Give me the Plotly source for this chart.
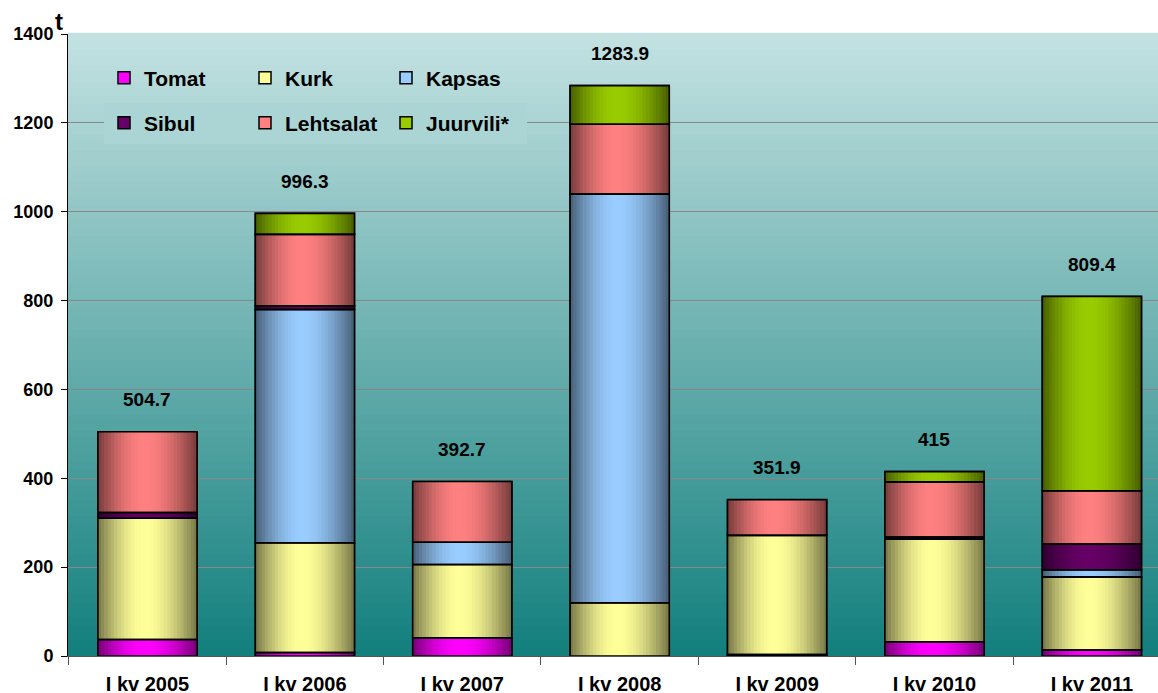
import math
import plotly.graph_objects as go

categories = ["I kv 2005", "I kv 2006", "I kv 2007", "I kv 2008", "I kv 2009", "I kv 2010", "I kv 2011"]
tomat = [37, 8, 41, 0, 3, 32, 13.5]
kurk = [273, 247, 165, 120, 268.6, 231, 164.5]
kapsas = [0, 525, 50, 920, 0, 0, 16]
sibul = [13, 8.5, 0, 0, 0, 5, 58]
lehtsalat = [181.7, 160.5, 136.7, 157, 80.3, 124, 120]
juurvili = [0, 47.3, 0, 86.9, 0, 23, 437.4]
total_labels = ["504.7", "996.3", "392.7", "1283.9", "351.9", "415", "809.4"]

series_names = ["Tomat", "Kurk", "Kapsas", "Sibul", "Lehtsalat", "Juurvili*"]
series_values = [tomat, kurk, kapsas, sibul, lehtsalat, juurvili]
series_colors = [(255, 0, 255), (255, 255, 153), (153, 204, 255), (102, 0, 102), (255, 128, 128), (153, 204, 0)]
legend_of = ["legend", "legend", "legend", "legend2", "legend2", "legend2"]

FONT = "Arial, Liberation Sans, sans-serif"
BAR_W = 0.63
N_STRIPS = 30


def shade(c, f):
    return "rgb(%d,%d,%d)" % tuple(max(0, min(255, round(v * f))) for v in c)


def profile(t):
    peak = 0.47
    d = (peak - t) / peak if t < peak else (t - peak) / (1 - peak)
    return 0.46 + 0.54 * math.cos(math.pi / 2 * d)


fig = go.Figure()

bases = []
run = [0.0] * len(categories)
for vals in series_values:
    bases.append(list(run))
    run = [r + v for r, v in zip(run, vals)]
totals = run

for name, vals, base, col, lg in zip(series_names, series_values, bases, series_colors, legend_of):
    yv = [v if v > 0 else None for v in vals]
    fig.add_trace(go.Bar(x=categories, y=yv, base=base, name=name, width=BAR_W,
                         marker=dict(color=shade(col, 1.0), line=dict(color="black", width=1.5)),
                         legend=lg, showlegend=True, hoverinfo="skip"))
    sw = BAR_W / N_STRIPS
    for i in range(N_STRIPS):
        t = (i + 0.5) / N_STRIPS
        fig.add_trace(go.Bar(x=categories, y=yv, base=base, width=sw * 1.15,
                             offset=-BAR_W / 2 + i * sw - sw * 0.05 if i > 0 else -BAR_W / 2,
                             marker=dict(color=shade(col, profile(t)), line=dict(width=0)),
                             showlegend=False, hoverinfo="skip"))

for name, vals, base in zip(series_names, series_values, bases):
    yv = [v if v > 0 else None for v in vals]
    fig.add_trace(go.Bar(x=categories, y=yv, base=base, width=BAR_W,
                         marker=dict(color="rgba(0,0,0,0)", line=dict(color="black", width=1.6)),
                         showlegend=False, hoverinfo="skip"))

top_c = (196, 226, 226)
bot_c = (18, 127, 125)
NB = 80


def bg_at(fr):
    return tuple(round(b + (t - b) * fr) for t, b in zip(top_c, bot_c))


shapes = []
for k in range(NB):
    fr = (k + 0.5) / NB
    shapes.append(dict(type="rect", xref="paper", yref="paper", x0=0, x1=1,
                       y0=k / NB, y1=(k + 1) / NB + 0.002, layer="below",
                       line=dict(width=0), fillcolor="rgb(%d,%d,%d)" % bg_at(fr)))

annotations = []
for cat, tot, lab in zip(categories, totals, total_labels):
    annotations.append(dict(x=cat, y=tot, text=lab, showarrow=False, yshift=32,
                            yanchor="middle", font=dict(family=FONT, size=19, color="black", weight="bold")))
annotations.append(dict(xref="paper", yref="paper", x=(59 - 68) / 1090, y=(656 - 21) / 622,
                        text="t", showarrow=False, xanchor="center", yanchor="middle",
                        font=dict(family=FONT, size=24, color="black", weight="bold")))

fig.update_layout(
    width=1158, height=693,
    margin=dict(l=68, r=0, t=34, b=37),
    barmode="overlay",
    paper_bgcolor="white",
    plot_bgcolor="rgb(%d,%d,%d)" % bg_at(0.5),
    shapes=shapes,
    annotations=annotations,
    legend=dict(orientation="h", x=(104 - 68) / 1090, xanchor="left", y=(656 - 78) / 622, yanchor="middle",
                entrywidth=96, entrywidthmode="pixels", bgcolor="rgba(0,0,0,0)", borderwidth=0,
                font=dict(family=FONT, size=21, color="black", weight="bold"), traceorder="normal"),
    legend2=dict(orientation="h", x=(104 - 68) / 1090, xanchor="left", y=(656 - 123) / 622, yanchor="middle",
                 entrywidth=96, entrywidthmode="pixels",
                 bgcolor="rgb(%d,%d,%d)" % bg_at((656 - 123) / 622), borderwidth=0,
                 font=dict(family=FONT, size=21, color="black", weight="bold"), traceorder="normal"),
    xaxis=dict(type="category", range=[-0.505, 6.42], tickson="boundaries", ticks="outside", ticklen=8,
               tickcolor="#555", showline=True, linecolor="#555", linewidth=1, showgrid=False,
               ticklabelstandoff=10, automargin=False,
               tickfont=dict(family=FONT, size=20, color="black", weight="bold")),
    yaxis=dict(range=[0, 1400], dtick=200, ticks="outside", ticklen=6, tickcolor="black",
               showline=True, linecolor="black", linewidth=1, showgrid=True, gridcolor="#888888",
               gridwidth=1, zeroline=False, ticklabelstandoff=4, automargin=False,
               tickfont=dict(family=FONT, size=18, color="black", weight="bold")),
)

fig.write_html("out.html", config={"displayModeBar": False},
               post_script="document.body.style.margin='0px';document.body.style.overflow='hidden';")
